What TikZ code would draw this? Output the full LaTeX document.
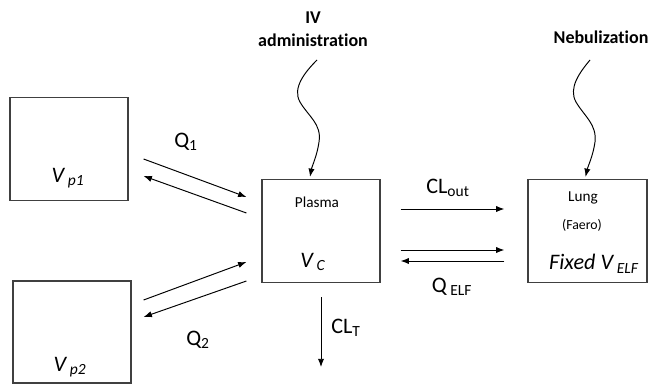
\documentclass[tikz,border=0pt]{standalone}
\usepackage{fontspec}
\setmainfont{Carlito}[Ligatures=NoCommon]
\usetikzlibrary{arrows.meta,calc}

\tikzset{
  box/.style={draw=black!75, line width=0.8pt, minimum width=1.18in, minimum height=1.03in, inner sep=0pt},
  flow/.style={-{Latex[length=6pt,width=4.5pt]}, line width=0.7pt},
  big/.style={font=\fontsize{16}{18}\selectfont, inner sep=0pt},
  bigit/.style={font=\fontsize{16}{18}\selectfont\itshape, inner sep=0pt},
  small/.style={font=\fontsize{11}{13}\selectfont, inner sep=0pt},
  head/.style={font=\fontsize{13}{17}\selectfont\bfseries, align=center, inner sep=0pt}
}

\begin{document}
\begin{tikzpicture}[x=0.01in,y=-0.01in]
\useasboundingbox (0,0) rectangle (654,388);
% compartments
\node[box] (vp1) at (69,149) {};
\node[box, minimum height=1.02in] (vp2) at (72,332) {};
\node[box] (plasma) at (321,231) {};
\node[box, minimum width=1.19in] (lung) at (587.5,231) {};
% texts in the boxes
\node[bigit] (vp1lab) at (68,178) {V\,\textsubscript{p1}};
\node[bigit] (vp2lab) at (70,367) {V\,\textsubscript{p2}};
\node[small] (plasmalab) at (317,202) {Plasma};
\node[bigit] (vclab) at (313,262) {V\,\textsubscript{C}};
\node[small] (lunglab) at (583,198) {Lung};
\node[small, font=\fontsize{10}{12}\selectfont] (faero) at (582,225) {(Faero)};
\node[bigit] (velf) at (594,264) {Fixed V\,\textsubscript{ELF}};
% doses
\node[head] (iv) at (313,29) {IV\\administration};
\node[head] (neb) at (601,37) {Nebulization};
\coordinate (ivsrc) at (317,60);
\coordinate (nebsrc) at (590,60);
\draw[flow] (ivsrc) .. controls (305,72) and (292,88) .. (300,102)
  .. controls (308,116) and (322,124) .. (319,142)
  .. controls (317,156) and (312,166) .. ($(plasma.north)+(-11,-2)$);
\draw[flow] (nebsrc) .. controls (580,72) and (568,88) .. (576,102)
  .. controls (584,116) and (597,124) .. (595,142)
  .. controls (593,156) and (588,166) .. ($(lung.north)+(-2,-2)$);
% peripheral exchange
\draw[flow] ($(vp1.east)+(15,10)$) -- ($(plasma.west)+(-15,-34)$);
\draw[flow] ($(plasma.west)+(-15,-18)$) -- ($(vp1.east)+(15,27)$);
\draw[flow] ($(vp2.east)+(12,-32)$) -- ($(plasma.west)+(-15,31)$);
\draw[flow] ($(plasma.west)+(-15,50)$) -- ($(vp2.east)+(12,-15)$);
\node[big] (q1) at (186,142) {Q\textsubscript{1}};
\node[big] (q2) at (198,340) {Q\textsubscript{2}};
% elimination
\coordinate (elim) at ($(plasma.south)+(0,84)$);
\draw[flow] ($(plasma.south)+(0,14)$) -- (elim);
\node[big] (clt) at (346,328) {CL\textsubscript{T}};
% lung exchange
\draw[flow] ($(plasma.east)+(20,-22)$) -- ($(lung.west)+(-23,-22)$);
\draw[flow] ($(plasma.east)+(20,19)$) -- ($(lung.west)+(-23,19)$);
\draw[flow] ($(lung.west)+(-23,30)$) -- ($(plasma.east)+(20,30)$);
\node[big] (clout) at (448,188) {CL\textsubscript{out}};
\node[big] (qelf) at (452,287) {Q\,\textsubscript{ELF}};
\end{tikzpicture}
\end{document}
